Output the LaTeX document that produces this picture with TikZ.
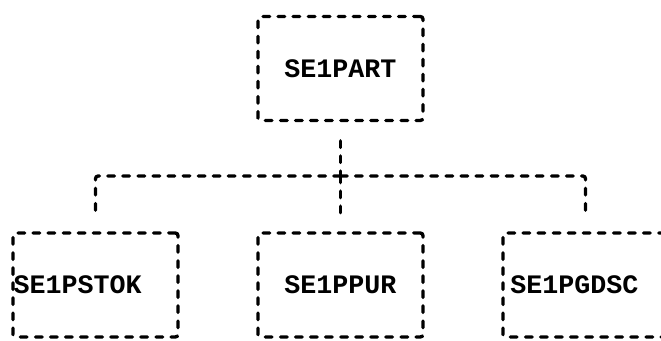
\documentclass[tikz,border=0pt]{standalone}
\usepackage{fontspec}
\setmonofont{Liberation Mono}
\usetikzlibrary{positioning}

\begin{document}
\begin{tikzpicture}[
      x=0.75pt,y=-0.75pt,
      module/.style={draw=black,line width=2.5pt,dash pattern=on 5pt off 6.3pt,
        line cap=round,rounded corners=2pt,minimum width=123.75pt,
        minimum height=78pt,inner sep=0pt,font=\ttfamily\bfseries\fontsize{20}{24}\selectfont},
      modname/.style={inner sep=0pt,font=\ttfamily\bfseries\fontsize{20}{24}\selectfont},
      link/.style={draw=black,line width=2.5pt,dash pattern=on 5pt off 6.3pt,
        line cap=round,rounded corners=2pt}
    ]
      \clip (0,0) rectangle (661,341);
      \node[module] (part) at (340.5,68.5) {SE1PART};
      \node[module] (stok) at (95.5,285) {};
      \node[module] (ppur) at (340.5,285) {SE1PPUR};
      \node[module] (gdsc) at (585.5,285) {};
      \node[modname,right=1.5pt of stok.west] (stokname) {SE1PSTOK};
      \node[modname,right=6.5pt of gdsc.west] (gdscname) {SE1PGDSC};
      \coordinate (busy) at (0,176);
      \coordinate (bus) at (part.south |- busy);
      \draw[link,shorten <=14pt] (part.south) -- (bus);
      \draw[link,shorten >=12.75pt] (bus) -| (stok.north);
      \draw[link,shorten >=12.75pt] (bus) -- (ppur.north);
      \draw[link,shorten >=12.75pt] (bus) -| (gdsc.north);
    \end{tikzpicture}
\end{document}
